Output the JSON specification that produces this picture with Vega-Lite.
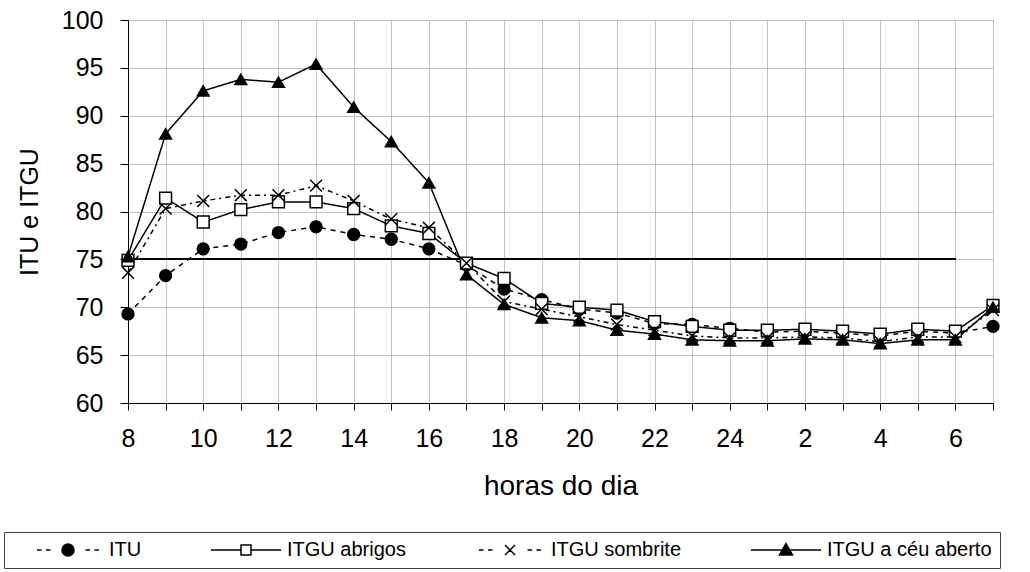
{
  "$schema": "https://vega.github.io/schema/vega-lite/v6.json",
  "width": 865,
  "height": 383,
  "autosize": {"type": "none"},
  "padding": {"left": 128, "top": 20, "right": 37, "bottom": 169},
  "background": "white",
  "config": {
    "font": "Liberation Sans",
    "view": {"stroke": "black", "strokeWidth": 1},
    "axis": {
      "domainColor": "black", "tickColor": "black", "labelColor": "black", "titleColor": "black",
      "gridColor": "#c0c0c0", "gridWidth": 1, "labelFont": "Liberation Sans", "titleFont": "Liberation Sans",
      "titleFontWeight": "normal", "domainWidth": 1, "tickWidth": 1
    },
    "legend": {
      "title": null, "orient": "none", "direction": "horizontal",
      "legendX": -124, "legendY": 512,
      "padding": 8, "strokeColor": "#404040", "fillColor": "white",
      "labelFont": "Liberation Sans", "labelColor": "black", "labelFontSize": 20, "labelLimit": 300,
      "symbolSize": 100, "symbolOffset": 46, "labelOffset": 31, "symbolOpacity": 1,
      "columnPadding": 48, "symbolStrokeColor": "black", "symbolStrokeWidth": 1.5
    }
  },
  "data": {
    "values": [
      {"hora": "8", "ITU": 69.3, "ITGU abrigos": 74.9, "ITGU sombrite": 73.6, "ITGU a céu aberto": 75.3},
      {"hora": "9", "ITU": 73.3, "ITGU abrigos": 81.4, "ITGU sombrite": 80.3, "ITGU a céu aberto": 88.1},
      {"hora": "10", "ITU": 76.1, "ITGU abrigos": 78.9, "ITGU sombrite": 81.1, "ITGU a céu aberto": 92.6},
      {"hora": "11", "ITU": 76.6, "ITGU abrigos": 80.2, "ITGU sombrite": 81.7, "ITGU a céu aberto": 93.8},
      {"hora": "12", "ITU": 77.8, "ITGU abrigos": 81.0, "ITGU sombrite": 81.7, "ITGU a céu aberto": 93.5},
      {"hora": "13", "ITU": 78.4, "ITGU abrigos": 81.0, "ITGU sombrite": 82.7, "ITGU a céu aberto": 95.4},
      {"hora": "14", "ITU": 77.6, "ITGU abrigos": 80.3, "ITGU sombrite": 81.1, "ITGU a céu aberto": 90.9},
      {"hora": "15", "ITU": 77.1, "ITGU abrigos": 78.5, "ITGU sombrite": 79.2, "ITGU a céu aberto": 87.3},
      {"hora": "16", "ITU": 76.1, "ITGU abrigos": 77.7, "ITGU sombrite": 78.3, "ITGU a céu aberto": 83.0},
      {"hora": "17", "ITU": 74.4, "ITGU abrigos": 74.6, "ITGU sombrite": 74.6, "ITGU a céu aberto": 73.4},
      {"hora": "18", "ITU": 71.9, "ITGU abrigos": 73.0, "ITGU sombrite": 70.6, "ITGU a céu aberto": 70.3},
      {"hora": "19", "ITU": 70.8, "ITGU abrigos": 70.4, "ITGU sombrite": 69.8, "ITGU a céu aberto": 68.9},
      {"hora": "20", "ITU": 69.8, "ITGU abrigos": 70.0, "ITGU sombrite": 69.0, "ITGU a céu aberto": 68.6},
      {"hora": "21", "ITU": 69.4, "ITGU abrigos": 69.7, "ITGU sombrite": 68.2, "ITGU a céu aberto": 67.6},
      {"hora": "22", "ITU": 68.3, "ITGU abrigos": 68.5, "ITGU sombrite": 67.6, "ITGU a céu aberto": 67.2},
      {"hora": "23", "ITU": 68.2, "ITGU abrigos": 68.0, "ITGU sombrite": 67.0, "ITGU a céu aberto": 66.6},
      {"hora": "24", "ITU": 67.8, "ITGU abrigos": 67.6, "ITGU sombrite": 66.8, "ITGU a céu aberto": 66.5},
      {"hora": "1", "ITU": 67.4, "ITGU abrigos": 67.6, "ITGU sombrite": 66.8, "ITGU a céu aberto": 66.5},
      {"hora": "2", "ITU": 67.5, "ITGU abrigos": 67.7, "ITGU sombrite": 66.9, "ITGU a céu aberto": 66.7},
      {"hora": "3", "ITU": 67.3, "ITGU abrigos": 67.5, "ITGU sombrite": 66.8, "ITGU a céu aberto": 66.6},
      {"hora": "4", "ITU": 67.0, "ITGU abrigos": 67.2, "ITGU sombrite": 66.4, "ITGU a céu aberto": 66.2},
      {"hora": "5", "ITU": 67.5, "ITGU abrigos": 67.7, "ITGU sombrite": 66.9, "ITGU a céu aberto": 66.6},
      {"hora": "6", "ITU": 67.3, "ITGU abrigos": 67.5, "ITGU sombrite": 66.9, "ITGU a céu aberto": 66.6},
      {"hora": "7", "ITU": 68.0, "ITGU abrigos": 70.2, "ITGU sombrite": 69.7, "ITGU a céu aberto": 70.0}
    ]
  },
  "transform": [{"fold": ["ITU", "ITGU abrigos", "ITGU sombrite", "ITGU a céu aberto"], "as": ["serie", "valor"]}],
  "encoding": {
    "x": {
      "field": "hora", "type": "ordinal",
      "scale": {"type": "point", "padding": 0, "domain": ["8","9","10","11","12","13","14","15","16","17","18","19","20","21","22","23","24","1","2","3","4","5","6","7"]},
      "axis": {
        "title": "horas do dia", "titleFontSize": 28, "titlePadding": 21,
        "labelFontSize": 25, "labelPadding": 16, "tickSize": 7, "labelAngle": 0,
        "labelExpr": "toNumber(datum.value) % 2 == 0 ? datum.value : ''",
        "grid": true
      }
    },
    "y": {
      "field": "valor", "type": "quantitative",
      "scale": {"domain": [60, 100], "nice": false, "zero": false},
      "axis": {
        "title": "ITU e ITGU", "titleFontSize": 25, "titlePadding": 19,
        "labelFontSize": 25, "labelPadding": 17, "tickSize": 8,
        "values": [60, 65, 70, 75, 80, 85, 90, 95, 100], "grid": true
      }
    }
  },
  "layer": [
    {
      "mark": {"type": "rule", "color": "black", "strokeWidth": 1.3},
      "encoding": {
        "x": {"datum": "8", "type": "ordinal"},
        "x2": {"datum": "6"},
        "y": {"datum": 75, "type": "quantitative"}
      }
    },
    {
      "mark": {"type": "line", "color": "black", "strokeWidth": 1.5},
      "encoding": {
        "strokeDash": {
          "field": "serie", "type": "nominal",
          "scale": {"domain": ["ITU", "ITGU abrigos", "ITGU sombrite", "ITGU a céu aberto"], "range": [[5, 5], [1, 0], [5, 4, 2, 4], [1, 0]]},
          "legend": null
        }
      }
    },
    {
      "mark": {"type": "point", "filled": true, "stroke": "black", "strokeWidth": 1.5, "size": 140},
      "encoding": {
        "shape": {
          "field": "serie", "type": "nominal",
          "scale": {"domain": ["ITU", "ITGU abrigos", "ITGU sombrite", "ITGU a céu aberto"], "range": ["circle", "square", "M-1,-1L1,1M-1,1L1,-1", "triangle-up"]},
          "legend": null
        },
        "fill": {
          "field": "serie", "type": "nominal",
          "scale": {"domain": ["ITU", "ITGU abrigos", "ITGU sombrite", "ITGU a céu aberto"], "range": ["black", "white", "transparent", "black"]},
          "legend": null
        },
        "opacity": {
          "field": "serie", "type": "nominal",
          "sort": ["ITU", "ITGU abrigos", "ITGU sombrite", "ITGU a céu aberto"],
          "scale": {"range": [1, 1]},
          "legend": {
            "encoding": {
              "symbols": {
                "shape": {"value": {"expr": "datum.value === 'ITU' ? 'M-6.2,0H-5.3M-4.4,0H-3.5M3.5,0H4.4M5.3,0H6.2M-1.2,0A1.2,1.2 0 1,0 1.2,0A1.2,1.2 0 1,0 -1.2,0Z' : datum.value === 'ITGU abrigos' ? 'M-7,0H-1M1,0H7M-1,-1H1V1H-1Z' : datum.value === 'ITGU sombrite' ? 'M-6.2,0H-5.3M-4.4,0H-3.5M3.5,0H4.4M5.3,0H6.2M-1,-1L1,1M-1,1L1,-1' : 'M-7,0H7M0,-1.3L1.3,1L-1.3,1Z'"}},
                "fill": {"value": {"expr": "datum.value === 'ITGU abrigos' ? 'white' : datum.value === 'ITGU sombrite' ? 'transparent' : 'black'"}},
                "fillOpacity": {"value": 1},
                "strokeOpacity": {"value": 1},
                "stroke": {"value": "black"},
                "strokeWidth": {"value": 1.5},
                "size": {"value": 100}
              }
            }
          }
        }
      }
    }
  ]
}
